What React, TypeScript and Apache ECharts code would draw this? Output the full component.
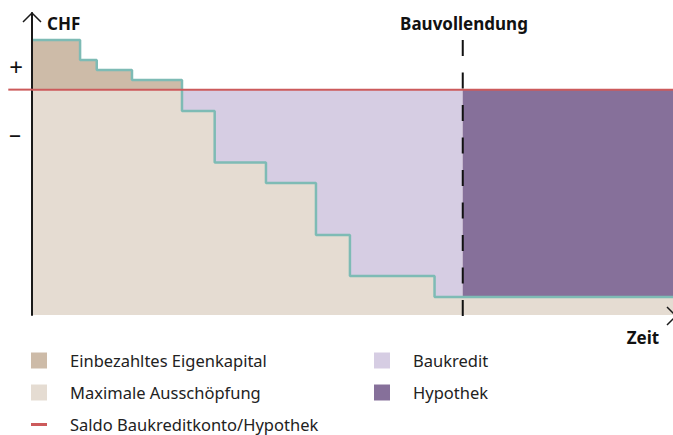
import React, { useEffect, useRef } from "react";
import * as echarts from "echarts";

// Time axis (arbitrary units 0..100) and balance (arbitrary CHF units)
const eigenkapitalSteps: [number, number][] = [
  [0, 22],
  [7.5, 13.1],
  [10.1, 8.7],
  [15.6, 4.3],
  [23.4, 4.3],
];
const baukreditSteps: [number, number][] = [
  [23.4, -9.5],
  [28.5, -32.3],
  [36.5, -41.4],
  [44.3, -64.5],
  [49.6, -82.7],
  [62.8, -92],
  [67.2, -92],
];
const hypothekSteps: [number, number][] = [
  [67.2, -92],
  [100, -92],
];
const ausschoepfung: [number, number][] = [
  [0, 0],
  [100, 0],
];
const saldoStart = -3.7;
const saldoLine: [number, number][] = [
  [0, 0],
  [100, 0],
];
const stepLine: [number, number][] = [
  [0, 22],
  [7.5, 13.1],
  [10.1, 8.7],
  [15.6, 4.3],
  [23.4, -9.5],
  [28.5, -32.3],
  [36.5, -41.4],
  [44.3, -64.5],
  [49.6, -82.7],
  [62.8, -92],
  [100, -92],
];
const bauvollendungX = 67.2;
const bauvollendungLine: [number, number][] = [
  [bauvollendungX, 22],
  [bauvollendungX, -100.9],
];

const names = {
  ek: "Einbezahltes Eigenkapital",
  max: "Maximale Ausschöpfung",
  saldo: "Saldo Baukreditkonto/Hypothek",
  bk: "Baukredit",
  hyp: "Hypothek",
};

const C = {
  ek: "#CDBBA8",
  max: "#E5DCD2",
  bk: "#D6CDE3",
  hyp: "#86709A",
  teal: "#7EBBB5",
  red: "#CC5A5B",
  axis: "#1a1a1a",
};

const FONT = "'Noto Sans', 'Open Sans', sans-serif";

export default function App() {
  const ref = useRef<HTMLDivElement>(null);
  useEffect(() => {
    if (!ref.current) return;
    const chart = echarts.init(ref.current, undefined, { renderer: "svg" });
    const area = (name: string, data: [number, number][], color: string, origin: any, z = 2) => ({
      name,
      type: "line",
      data,
      step: "end",
      symbol: "none",
      silent: true,
      z,
      lineStyle: { width: 0, color },
      itemStyle: { color },
      areaStyle: { color, opacity: 1, origin },
      emphasis: { disabled: true },
    });
    const legendText = {
      fontSize: 16.5,
      lineHeight: 16,
      color: "#222",
      fontFamily: FONT,
      padding: [0, 0, 0, 18],
    };
    const legendBase = {
      top: 352,
      height: 95,
      padding: 0,
      orient: "vertical",
      itemWidth: 16,
      itemHeight: 16,
      itemGap: 15,
      selectedMode: false,
      textStyle: legendText,
      itemStyle: { borderWidth: 0 },
    };
    const titleStyle = { fontSize: 17, fontWeight: "bold", fontFamily: FONT, fill: "#111", textVerticalAlign: "middle" };
    chart.setOption({
      animation: false,
      grid: { left: 32, right: 0, top: 13, bottom: 120 },
      xAxis: {
        type: "value",
        min: 0,
        max: 100,
        z: 10,
        axisLine: {
          show: true,
          onZero: false,
          lineStyle: { color: C.axis, width: 2, shadowColor: "rgba(0,0,0,0.35)", shadowOffsetY: 2, shadowBlur: 0 },
        },
        axisTick: { show: false },
        axisLabel: { show: false },
        splitLine: { show: false },
      },
      yAxis: {
        type: "value",
        min: -100,
        max: 34,
        z: 10,
        axisLine: { show: true, onZero: false, lineStyle: { color: C.axis, width: 2 } },
        axisTick: { show: false },
        axisLabel: { show: false },
        splitLine: { show: false },
      },
      legend: [
        {
          ...legendBase,
          left: 31,
          data: [
            { name: names.ek, icon: "rect", itemStyle: { color: C.ek, borderWidth: 0 } },
            { name: names.max, icon: "rect", itemStyle: { color: C.max, borderWidth: 0 } },
            { name: names.saldo, icon: "path://M0 0H16V3H0Z", itemStyle: { color: C.red, borderWidth: 0 } },
          ],
        },
        {
          ...legendBase,
          left: 374,
          data: [
            { name: names.bk, icon: "rect", itemStyle: { color: C.bk, borderWidth: 0 } },
            { name: names.hyp, icon: "rect", itemStyle: { color: C.hyp, borderWidth: 0 } },
          ],
        },
      ],
      series: [
        area(names.ek, eigenkapitalSteps, C.ek, "auto", 2),
        area(names.max, ausschoepfung, C.max, "start", 3),
        area(names.bk, baukreditSteps, C.bk, "auto", 4),
        area(names.hyp, hypothekSteps, C.hyp, "auto", 4),
        {
          name: "Stufen",
          type: "line",
          data: stepLine,
          step: "end",
          symbol: "none",
          silent: true,
          z: 6,
          lineStyle: { width: 2.5, color: C.teal },
          emphasis: { disabled: true },
        },
        {
          name: "Bauvollendung",
          type: "line",
          data: bauvollendungLine,
          symbol: "none",
          silent: true,
          clip: false,
          z: 12,
          lineStyle: { width: 2, color: "#111", type: [16, 16.5] },
          emphasis: { disabled: true },
        },
        {
          name: names.saldo,
          type: "line",
          data: saldoLine,
          symbol: "none",
          silent: true,
          z: 11,
          itemStyle: { color: C.red },
          lineStyle: { width: 2, color: C.red },
          emphasis: { disabled: true },
        },
      ],
      graphic: [
        {
          type: "polyline",
          z: 20,
          shape: { points: [[23, 22], [32, 13], [41, 22]] },
          style: { stroke: C.axis, lineWidth: 1.5, fill: "none" },
        },
        {
          type: "polyline",
          z: 20,
          shape: { points: [[667, 307], [676, 316], [667, 325]] },
          style: { stroke: C.axis, lineWidth: 1.5, fill: "none" },
        },
        { type: "text", x: 47, y: 23, style: { ...titleStyle, text: "CHF" } },
        { type: "text", x: 464, y: 23, style: { ...titleStyle, text: "Bauvollendung", textAlign: "center" } },
        { type: "text", x: 643, y: 337, style: { ...titleStyle, text: "Zeit", textAlign: "center" } },
        {
          type: "text",
          x: 16,
          y: 66,
          style: { text: "+", fontSize: 24, fontFamily: FONT, fill: "#111", textAlign: "center", textVerticalAlign: "middle" },
        },
        {
          type: "text",
          x: 15,
          y: 132,
          style: { text: "–", fontSize: 24, fontFamily: FONT, fill: "#111", textAlign: "center", textVerticalAlign: "middle" },
        },
      ],
    });
    // Extend the Saldo line to the left of the y axis, positioned through the axis scales
    const p0 = chart.convertToPixel({ xAxisIndex: 0, yAxisIndex: 0 }, [saldoStart, 0]) as number[];
    const p1 = chart.convertToPixel({ xAxisIndex: 0, yAxisIndex: 0 }, [0, 0]) as number[];
    chart.setOption({
      graphic: [
        {
          id: "saldoLeft",
          type: "line",
          z: 20,
          shape: { x1: p0[0], y1: p0[1], x2: p1[0], y2: p1[1] },
          style: { stroke: C.red, lineWidth: 2 },
        },
      ],
    });
    return () => chart.dispose();
  }, []);
  return <div ref={ref} style={{ width: 673, height: 435, position: "absolute", left: 0, top: 0 }} />;
}
